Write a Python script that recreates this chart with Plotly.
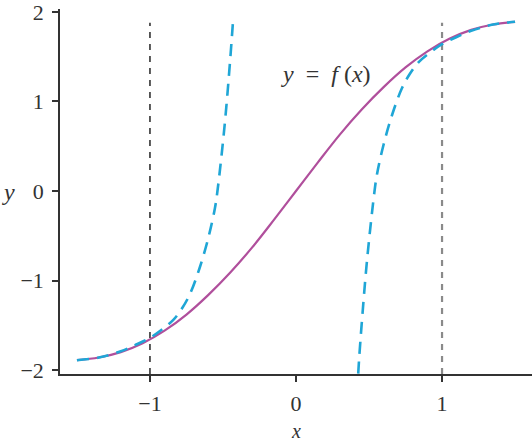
import plotly.graph_objects as go

# f(x) curve (solid purple)
f_x = [-1.5, -1.35, -1.2, -1.05, -0.9, -0.75, -0.6, -0.45, -0.3, -0.15, 0.0,
       0.15, 0.3, 0.45, 0.6, 0.75, 0.9, 1.05, 1.2, 1.35, 1.5]
f_y = [-1.89, -1.86, -1.80, -1.70, -1.56, -1.38, -1.16, -0.91, -0.63, -0.32, 0.0,
       0.32, 0.63, 0.91, 1.16, 1.38, 1.56, 1.70, 1.80, 1.86, 1.89]

# left approximation (dashed blue)
a_x = [-1.5, -1.35, -1.2, -1.1, -1.0, -0.92, -0.84, -0.78, -0.726, -0.66, -0.60,
       -0.555, -0.534, -0.486, -0.452, -0.432]
a_y = [-1.89, -1.86, -1.79, -1.72, -1.64, -1.55, -1.44, -1.31, -1.15, -0.86, -0.52,
       -0.19, 0.05, 0.78, 1.44, 1.88]

# right approximation (dashed blue)
b_x = [0.426, 0.432, 0.452, 0.486, 0.534, 0.555, 0.60, 0.66, 0.726, 0.78, 0.84, 0.92,
       1.0, 1.1, 1.2, 1.35, 1.5]
b_y = [-2.04, -1.88, -1.44, -0.78, -0.05, 0.19, 0.52, 0.86, 1.15, 1.31, 1.44, 1.55,
       1.64, 1.72, 1.79, 1.86, 1.89]

vline_x = [-1, 1]
vline_colors = ["#333333", "#8a8a8a"]
vline_top = 1.88

x_ticks = [-1, 0, 1]
x_ticktext = ["−1", "0", "1"]
y_ticks = [-2, -1, 0, 1, 2]
y_ticktext = ["−2", "−1", "0", "1", "2"]

x_range = [-1.616, 1.616]
y_range = [-2.044, 2.033]

PURPLE = "#b04f9c"
BLUE = "#1fa6d6"
FONT = "Liberation Serif"
TXT = "#333333"

fig = go.Figure()

for vx, vc in zip(vline_x, vline_colors):
    fig.add_trace(go.Scatter(
        x=[vx, vx], y=[y_range[0], vline_top], mode="lines",
        line=dict(color=vc, width=1.6 if vc == "#333333" else 2.2, dash="6px,6px"),
        hoverinfo="skip", showlegend=False, cliponaxis=False))

fig.add_trace(go.Scatter(x=f_x, y=f_y, mode="lines", line=dict(color=PURPLE, width=2.2, shape="spline"),
                         showlegend=False))
fig.add_trace(go.Scatter(x=a_x, y=a_y, mode="lines",
                         line=dict(color=BLUE, width=2.6, dash="12px,8px", shape="spline"),
                         showlegend=False))
fig.add_trace(go.Scatter(x=b_x, y=b_y, mode="lines",
                         line=dict(color=BLUE, width=2.6, dash="12px,8px", shape="spline"),
                         showlegend=False))

fig.add_annotation(x=0.205, y=1.31, xref="x", yref="y", showarrow=False,
                   xanchor="center", yanchor="middle",
                   text="<i>y</i>&nbsp;&nbsp;=&nbsp;&nbsp;<i>f</i>&nbsp;(<i>x</i>)",
                   font=dict(family=FONT, size=24, color=TXT))
fig.add_annotation(x=-0.11, y=0.5, xref="paper", yref="paper", showarrow=False,
                   xanchor="center", yanchor="middle",
                   text="<i>y</i>", font=dict(family=FONT, size=24, color=TXT))
fig.add_annotation(x=0.5, y=-0.189, xref="paper", yref="paper", showarrow=False,
                   xanchor="center", yanchor="bottom", borderpad=0,
                   text="<i>x</i>", font=dict(family=FONT, size=20, color=TXT))

fig.update_layout(
    width=532, height=444,
    margin=dict(l=60, r=0, t=7, b=70),
    paper_bgcolor="white", plot_bgcolor="white",
    xaxis=dict(range=x_range, showgrid=False, zeroline=False, showline=True,
               linecolor=TXT, linewidth=1.5, ticks="outside", ticklen=6,
               tickwidth=1.5, tickcolor=TXT,
               tickvals=x_ticks, ticktext=x_ticktext, ticklabeloverflow="allow",
               tickfont=dict(family=FONT, size=22, color=TXT), ticklabelstandoff=3),
    yaxis=dict(range=y_range, showgrid=False, zeroline=False, showline=True,
               linecolor=TXT, linewidth=1.5, ticks="outside", ticklen=6,
               tickwidth=1.5, tickcolor=TXT, ticklabeloverflow="allow",
               tickvals=y_ticks, ticktext=y_ticktext,
               tickfont=dict(family=FONT, size=22, color=TXT), ticklabelstandoff=4),
)

fig.write_html("out.html")
